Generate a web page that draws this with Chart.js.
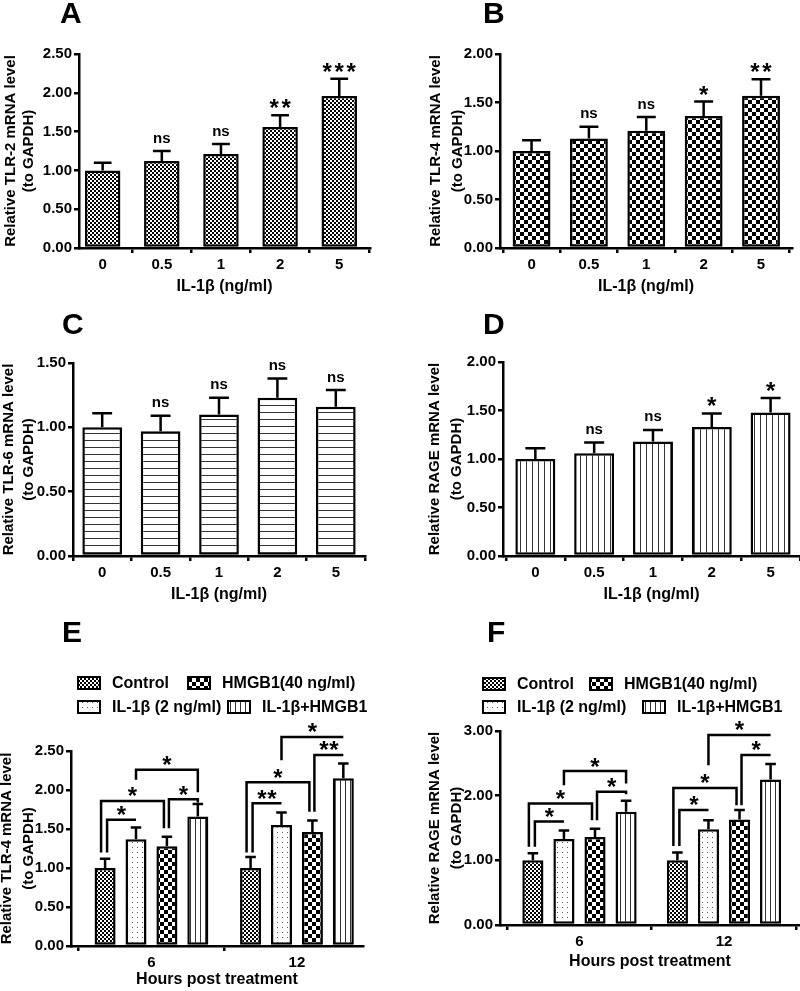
<!DOCTYPE html>
<html>
<head>
<meta charset="utf-8">
<script src="https://cdn.jsdelivr.net/npm/chart.js@4.4.0/dist/chart.umd.min.js"></script>
<style>
  body { margin: 0; background: #fff; }
  #wrap { position: relative; width: 800px; height: 991px; }
  canvas { position: absolute; }
</style>
</head>
<body>
<div id="wrap">
  <canvas id="chartA" width="400" height="300" style="left:0;top:0"></canvas>
  <canvas id="chartB" width="400" height="300" style="left:400px;top:0"></canvas>
  <canvas id="chartC" width="400" height="310" style="left:0;top:300px"></canvas>
  <canvas id="chartD" width="400" height="310" style="left:400px;top:300px"></canvas>
  <canvas id="chartE" width="400" height="381" style="left:0;top:610px"></canvas>
  <canvas id="chartF" width="400" height="381" style="left:400px;top:610px"></canvas>
</div>
<script>
// ---- data ----
const doseLabels = ['0', '0.5', '1', '2', '5'];

const tlr2Mean = [1.00, 1.12, 1.21, 1.56, 1.96];
const tlr2Err  = [0.10, 0.13, 0.13, 0.15, 0.22];
const tlr2Sig  = ['', 'ns', 'ns', '**', '***'];

const tlr4Mean = [1.00, 1.13, 1.21, 1.36, 1.57];
const tlr4Err  = [0.11, 0.12, 0.14, 0.15, 0.17];
const tlr4Sig  = ['', 'ns', 'ns', '*', '**'];

const tlr6Mean = [1.00, 0.97, 1.10, 1.23, 1.16];
const tlr6Err  = [0.11, 0.12, 0.13, 0.15, 0.13];
const tlr6Sig  = ['', 'ns', 'ns', 'ns', 'ns'];

const rageMean = [1.00, 1.06, 1.18, 1.33, 1.48];
const rageErr  = [0.11, 0.11, 0.12, 0.14, 0.15];
const rageSig  = ['', 'ns', 'ns', '*', '*'];

const hourLabels = ['6', '12'];
const groupNames = ['Control', 'IL-1β (2 ng/ml)', 'HMGB1(40 ng/ml)', 'IL-1β+HMGB1'];

const eControl = [1.00, 1.00];  const eControlErr = [0.12, 0.14];
const eIl      = [1.37, 1.55];  const eIlErr      = [0.15, 0.16];
const eHmgb1   = [1.28, 1.46];  const eHmgb1Err   = [0.12, 0.15];
const eCombo   = [1.66, 2.15];  const eComboErr   = [0.16, 0.19];

const fControl = [1.00, 1.00];  const fControlErr = [0.11, 0.12];
const fIl      = [1.33, 1.48];  const fIlErr      = [0.13, 0.14];
const fHmgb1   = [1.36, 1.63];  const fHmgb1Err   = [0.13, 0.15];
const fCombo   = [1.75, 2.25];  const fComboErr   = [0.17, 0.24];

// [group, fromSeries, toSeries, level, fromLegEnd, toLegEnd, label]
const eBrackets = [
  [0, 0, 1, 1.62, 1.20, 1.62, '*'],
  [0, 0, 2, 1.86, 1.20, 1.51, '*'],
  [0, 2, 3, 1.88, 1.51, 1.84, '*'],
  [0, 1, 3, 2.26, 2.13, 1.97, '*'],
  [1, 0, 1, 1.83, 1.20, 1.83, '**'],
  [1, 0, 2, 2.10, 1.20, 1.72, '*'],
  [1, 2, 3, 2.45, 1.72, 2.45, '**'],
  [1, 1, 3, 2.68, 2.38, 2.68, '*']
];
const fBrackets = [
  [0, 0, 1, 1.60, 1.21, 1.60, '*'],
  [0, 0, 2, 1.88, 1.21, 1.62, '*'],
  [0, 2, 3, 2.06, 1.62, 2.02, '*'],
  [0, 1, 3, 2.38, 2.16, 2.19, '*'],
  [1, 0, 1, 1.78, 1.22, 1.78, '*'],
  [1, 0, 2, 2.12, 1.22, 1.85, '*'],
  [1, 2, 3, 2.63, 1.85, 2.63, '*'],
  [1, 1, 3, 2.94, 2.47, 2.94, '*']
];

const FONT = "'Liberation Sans', Arial, sans-serif";
Chart.defaults.font.family = FONT;
Chart.defaults.font.size = 15;
Chart.defaults.font.weight = 'bold';
Chart.defaults.color = '#000';

// fill patterns like the GraphPad hatchings
function pattern(kind) {
  const c = document.createElement('canvas');
  const g = c.getContext('2d');
  const size = { fine: 4, check: 8, hlines: 7, vlines: 6, vlines5: 5, dots: 5 }[kind];
  c.width = c.height = size;
  g.fillStyle = '#fff';
  g.fillRect(0, 0, size, size);
  g.fillStyle = '#000';
  if (kind === 'fine') { g.fillRect(0, 0, 2, 2); g.fillRect(2, 2, 2, 2); }
  if (kind === 'check') { g.fillRect(0, 0, 4, 4); g.fillRect(4, 4, 4, 4); }
  if (kind === 'hlines') { g.fillStyle = '#333'; g.fillRect(0, 0, size, 1); }
  if (kind === 'vlines' || kind === 'vlines5') { g.fillStyle = '#333'; g.fillRect(0, 0, 1, size); }
  if (kind === 'dots') { g.fillStyle = '#555'; g.fillRect(2, 2, 1, 1); }
  return g.createPattern(c, 'repeat');
}

function drawSig(ctx, text, x, bottom, pitch) {
  ctx.textAlign = 'center';
  ctx.textBaseline = 'alphabetic';
  if (/^\*+$/.test(text)) {
    ctx.font = 'bold 24px ' + FONT;
    const n = text.length;
    for (let k = 0; k < n; k++) {
      ctx.fillText('*', x + (k - (n - 1) / 2) * pitch, bottom + 9.5);
    }
  } else {
    ctx.font = 'bold 15px ' + FONT;
    ctx.fillText(text, x, bottom);
  }
}

// error bars, significance marks, brackets, legend, panel letter
const marks = {
  id: 'marks',
  afterDatasetsDraw(chart, args, o) {
    const ctx = chart.ctx;
    const y = chart.scales.y;
    ctx.save();
    ctx.strokeStyle = '#000';
    ctx.fillStyle = '#000';
    ctx.lineWidth = 2.5;
    ctx.lineCap = 'butt';
    ctx.lineJoin = 'miter';
    chart.data.datasets.forEach((ds, di) => {
      chart.getDatasetMeta(di).data.forEach((bar, i) => {
        const top = y.getPixelForValue(ds.data[i].y + ds.errors[i]);
        const cap = bar.width * 0.5;
        ctx.beginPath();
        ctx.moveTo(bar.x, bar.y);
        ctx.lineTo(bar.x, top);
        ctx.moveTo(bar.x - cap / 2, top);
        ctx.lineTo(bar.x + cap / 2, top);
        ctx.stroke();
        if (ds.sig && ds.sig[i]) drawSig(ctx, ds.sig[i], bar.x, top - 8.5, 12);
      });
    });
    (o.brackets || []).forEach(([g, a, b, level, lowA, lowB, label]) => {
      const ba = chart.getDatasetMeta(a).data[g];
      const bb = chart.getDatasetMeta(b).data[g];
      const span = b - a;
      const xa = ba.x + (span === 1 ? 2 : (a === 0 ? -4 : 0));
      const xb = bb.x + (b === 2 ? -3 : 0);
      const yl = y.getPixelForValue(level);
      ctx.beginPath();
      ctx.moveTo(xa, y.getPixelForValue(lowA));
      ctx.lineTo(xa, yl);
      ctx.lineTo(xb, yl);
      ctx.lineTo(xb, y.getPixelForValue(lowB));
      ctx.stroke();
      drawSig(ctx, label, (xa + xb) / 2, yl - 6, 10);
    });
    if (o.legend) {
      ctx.font = 'bold 16px ' + FONT;
      ctx.textAlign = 'left';
      ctx.textBaseline = 'middle';
      o.legend.forEach(([di, x, yy]) => {
        const ds = chart.data.datasets[di];
        ctx.fillStyle = ds.backgroundColor;
        ctx.fillRect(x, yy - 6, 22, 12);
        ctx.lineWidth = 2;
        ctx.strokeRect(x, yy - 6, 22, 12);
        ctx.fillStyle = '#000';
        ctx.fillText(ds.label, x + 34, yy + 1);
      });
    }
    ctx.font = 'bold 30px ' + FONT;
    ctx.textAlign = 'left';
    ctx.textBaseline = 'alphabetic';
    ctx.fillStyle = '#000';
    ctx.fillText(o.letter[0], o.letter[1], o.letter[2]);
    ctx.restore();
  }
};

function panel(id, p) {
  const axisLine = { color: '#000', width: 2.5 };
  const ticksOnly = { drawOnChartArea: false, tickLength: 5, lineWidth: 2.5, color: '#000' };
  new Chart(document.getElementById(id), {
    type: 'bar',
    data: { datasets: p.datasets },
    options: {
      responsive: false,
      animation: false,
      devicePixelRatio: 1,
      layout: { padding: { left: 0, top: p.top, right: p.w - p.right, bottom: 0 } },
      plugins: {
        legend: { display: false },
        tooltip: { enabled: false },
        marks: { letter: p.letter, brackets: p.brackets, legend: p.legend }
      },
      scales: {
        x: {
          type: 'linear',
          offset: false,
          min: p.xMin, max: p.xMax,
          grid: ticksOnly,
          border: axisLine,
          ticks: { padding: 3, autoSkip: false, maxRotation: 0, callback: v => p.labels[v] },
          afterBuildTicks: s => { s.ticks = p.labels.map((_, i) => ({ value: i })); },
          title: {
            display: true, text: p.xTitle,
            font: { size: 16, weight: 'bold' },
            padding: { top: 0, bottom: p.h - p.xTitleY - 9.6 }
          },
          afterFit: s => { s.height = p.h - p.bottom; }
        },
        y: {
          min: 0, max: p.yMax,
          ticks: { stepSize: p.yStep, padding: 2, callback: v => v.toFixed(2) },
          grid: ticksOnly,
          border: axisLine,
          title: {
            display: true, text: p.yTitle,
            font: { size: 15, weight: 'bold', lineHeight: p.lh + 'px' },
            padding: { top: p.yTitleX - p.lh / 2, bottom: 0 }
          },
          afterFit: s => { s.width = p.left; }
        }
      }
    },
    plugins: [marks]
  });
}

const points = vals => vals.map((v, i) => ({ x: i, y: v }));

function single(mean, err, sig, fill, pct) {
  return [{
    data: points(mean), errors: err, sig: sig,
    backgroundColor: fill, borderColor: '#000', borderWidth: 2.5, borderSkipped: false,
    barPercentage: pct, categoryPercentage: 1
  }];
}

function grouped(series, errs, catPct) {
  const fills = [pattern('fine'), pattern('dots'), pattern('check'), pattern('vlines5')];
  return series.map((s, i) => ({
    label: groupNames[i], data: points(s), errors: errs[i],
    backgroundColor: fills[i], borderColor: '#000', borderWidth: 2.5, borderSkipped: false,
    barPercentage: 0.68, categoryPercentage: catPct
  }));
}

const doseTitle = 'IL-1β (ng/ml)';
const hourTitle = 'Hours post treatment';

panel('chartA', {
  w: 400, h: 300, left: 79, top: 54, right: 370, bottom: 248, xTitleY: 287,
  xMin: -0.40, xMax: 4.52,
  lh: 18.5, yTitleX: 10.5, yMax: 2.5, yStep: 0.5, letter: ['A', 60, 23],
  labels: doseLabels, xTitle: doseTitle, yTitle: ['Relative TLR-2 mRNA level', '(to GAPDH)'],
  datasets: single(tlr2Mean, tlr2Err, tlr2Sig, pattern('fine'), 0.6)
});
panel('chartB', {
  w: 400, h: 300, left: 100, top: 54, right: 392, bottom: 248, xTitleY: 287,
  xMin: -0.55, xMax: 4.54,
  lh: 22, yTitleX: 35.5, yMax: 2.0, yStep: 0.5, letter: ['B', 83, 23],
  labels: doseLabels, xTitle: doseTitle, yTitle: ['Relative TLR-4 mRNA level', '(to GAPDH)'],
  datasets: single(tlr4Mean, tlr4Err, tlr4Sig, pattern('check'), 0.66)
});
panel('chartC', {
  w: 400, h: 310, left: 73, top: 63, right: 365, bottom: 256, xTitleY: 295,
  xMin: -0.5, xMax: 4.5,
  lh: 19.5, yTitleX: 9, yMax: 1.5, yStep: 0.5, letter: ['C', 62, 34],
  labels: doseLabels, xTitle: doseTitle, yTitle: ['Relative TLR-6 mRNA level', '(to GAPDH)'],
  datasets: single(tlr6Mean, tlr6Err, tlr6Sig, pattern('hlines'), 0.68)
});
panel('chartD', {
  w: 400, h: 310, left: 103, top: 62, right: 400, bottom: 256, xTitleY: 295,
  xMin: -0.55, xMax: 4.5,
  lh: 22, yTitleX: 35, yMax: 2.0, yStep: 0.5, letter: ['D', 83, 34],
  labels: doseLabels, xTitle: doseTitle, yTitle: ['Relative RAGE mRNA level', '(to GAPDH)'],
  datasets: single(rageMean, rageErr, rageSig, pattern('vlines'), 0.68)
});
panel('chartE', {
  w: 400, h: 381, left: 71, top: 141, right: 363, bottom: 336, xTitleY: 370,
  xMin: -0.553, xMax: 1.454,
  lh: 22, yTitleX: 6.5, yMax: 2.5, yStep: 0.5, letter: ['E', 62, 32],
  labels: hourLabels, xTitle: hourTitle, yTitle: ['Relative TLR-4 mRNA level', '(to GAPDH)'],
  datasets: grouped([eControl, eIl, eHmgb1, eCombo], [eControlErr, eIlErr, eHmgb1Err, eComboErr], 0.85),
  brackets: eBrackets,
  legend: [[0, 78, 73], [2, 188, 73], [1, 78, 97], [3, 228, 97]]
});
panel('chartF', {
  w: 400, h: 381, left: 100, top: 121, right: 400, bottom: 315, xTitleY: 352,
  xMin: -0.55, xMax: 1.526,
  lh: 22, yTitleX: 35, yMax: 3.0, yStep: 1.0, letter: ['F', 87, 32],
  labels: hourLabels, xTitle: hourTitle, yTitle: ['Relative RAGE mRNA level', '(to GAPDH)'],
  datasets: grouped([fControl, fIl, fHmgb1, fCombo], [fControlErr, fIlErr, fHmgb1Err, fComboErr], 0.86),
  brackets: fBrackets,
  legend: [[0, 83, 74], [2, 190, 74], [1, 83, 97], [3, 243, 97]]
});
</script>
</body>
</html>
